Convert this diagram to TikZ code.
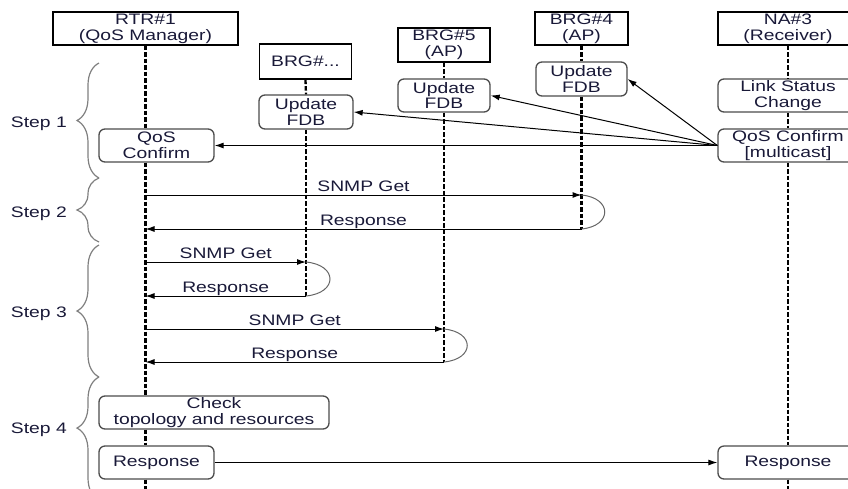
\documentclass[tikz,border=0pt]{standalone}
\usepackage{fontspec}
\setmainfont[FakeStretch=1.27]{Liberation Sans}
\usetikzlibrary{arrows.meta,decorations.pathreplacing}
\definecolor{txt}{rgb}{0.1,0.1,0.22}
\begin{document}
\begin{tikzpicture}[x=1pt,y=-1pt,
  every node/.style={font=\fontsize{15.2}{15.7}\selectfont, text=txt, align=center, inner sep=0pt},
  head/.style={draw=black, line width=1.4pt, minimum height=33pt},
  act/.style={draw=black!70, line width=1.3pt, rounded corners=6pt, minimum height=33pt},
  life/.style={line width=2.3pt, dash pattern=on 4.5pt off 2pt},
  msg/.style={line width=1pt, -{Latex[length=9pt,width=6pt]}},
  loopback/.style={draw=black!60, line width=1pt},
  stepbrace/.style={draw=black!50, line width=1.2pt, decorate, decoration={brace, amplitude=22pt}},
  steplabel/.style={anchor=base east},
  msglabel/.style={midway, anchor=base, yshift=4pt}
]
\useasboundingbox (0,0) rectangle (848,488);
\clip (0,0) rectangle (848,488);

% heads
\node[head, minimum width=185pt] (rtr) at (145.5,28.5) {RTR\#1\\(QoS Manager)};
\node[head, minimum width=92pt, minimum height=35pt] (brgx) at (305.5,61.5) {BRG\#...};
\node[head, minimum width=92pt, minimum height=34pt] (brg5) at (444,45) {BRG\#5\\(AP)};
\node[head, minimum width=93pt] (brg4) at (581.5,28.5) {BRG\#4\\(AP)};
\node[head, minimum width=140pt] (na3) at (788,28.5) {NA\#3\\(Receiver)};

% activity boxes
\node[act, minimum width=115pt] (rtrqos) at (156.5,145.5) {QoS\\Confirm};
\node[act, minimum width=94pt, minimum height=34pt] (brgxfdb) at (306,112) {Update\\FDB};
\node[act, minimum width=92pt] (brg5fdb) at (444,95.5) {Update\\FDB};
\node[act, minimum width=91pt, minimum height=34pt] (brg4fdb) at (581.5,79) {Update\\FDB};
\node[act, minimum width=140pt] (nalink) at (788,95.5) {Link Status\\Change};
\node[act, minimum width=140pt] (naqos) at (788,145.5) {QoS Confirm\\{}[multicast]};
\node[act, minimum width=230pt] (check) at (214,412.5) {Check\\topology and resources};
\node[act, minimum width=115pt] (rtrresp) at (156.5,462.5) {Response};
\node[act, minimum width=140pt] (naresp) at (788,462.5) {Response};

% lifelines
\draw[life] (rtr.south) -- (rtr.south |- rtrqos.north);
\draw[life] (rtr.south |- rtrqos.south) -- (rtr.south |- check.north);
\draw[life] (rtr.south |- check.south) -- (rtr.south |- rtrresp.north);
\draw[life] (rtr.south |- rtrresp.south) -- (145.5,495);
\draw[life] (brgx.south) -- (brgxfdb.north);
\draw[life] (brgxfdb.south) -- (306,296);
\draw[life] (brg5.south) -- (brg5fdb.north);
\draw[life] (brg5fdb.south) -- (444,362);
\draw[life] (brg4.south) -- (brg4fdb.north);
\draw[life] (brg4fdb.south) -- (581.5,229);
\draw[life] (na3.south) -- (nalink.north);
\draw[life] (nalink.south) -- (naqos.north);
\draw[life] (naqos.south) -- (naresp.north);
\draw[life] (naresp.south) -- (788,495);

% step 1 multicast
\draw[msg] (naqos.west) -- (rtrqos.east);
\draw[msg] (naqos.west) -- (brgxfdb.east);
\draw[msg] (naqos.west) -- (brg5fdb.east);
\draw[msg] (naqos.west) -- (brg4fdb.east);

% step 2
\coordinate (g2a) at (145.5,195);
\coordinate (g2b) at (581.5,195);
\coordinate (r2b) at (581.5,229);
\coordinate (r2a) at (145.5,229);
\draw[msg] (g2a) -- node[msglabel] {SNMP Get} (g2b);
\draw[loopback] (g2b) .. controls +(31,3) and +(31,-3) .. (r2b);
\draw[msg] (r2b) -- node[msglabel] {Response} (r2a);

% step 3
\coordinate (g3a) at (145.5,262);
\coordinate (g3b) at (306,262);
\coordinate (r3b) at (306,296);
\coordinate (r3a) at (145.5,296);
\draw[msg] (g3a) -- node[msglabel] {SNMP Get} (g3b);
\draw[loopback] (g3b) .. controls +(32,3) and +(32,-3) .. (r3b);
\draw[msg] (r3b) -- node[msglabel] {Response} (r3a);

\coordinate (g4a) at (145.5,329);
\coordinate (g4b) at (444,329);
\coordinate (r4b) at (444,362);
\coordinate (r4a) at (145.5,362);
\draw[msg] (g4a) -- node[msglabel] {SNMP Get} (g4b);
\draw[loopback] (g4b) .. controls +(31,3) and +(31,-3) .. (r4b);
\draw[msg] (r4b) -- node[msglabel] {Response} (r4a);

% step 4
\draw[msg] (rtrresp.east) -- (naresp.west);

% braces
\coordinate (b1t) at (99,63);
\coordinate (b1b) at (99,178);
\coordinate (b2t) at (99,178);
\coordinate (b2b) at (99,242);
\coordinate (b3t) at (99,245);
\coordinate (b3b) at (99,377);
\coordinate (b4t) at (99,377);
\coordinate (b4b) at (99,500);
\draw[stepbrace] (b1b) -- (b1t);
\draw[stepbrace] (b2b) -- (b2t);
\draw[stepbrace] (b3b) -- (b3t);
\draw[stepbrace, decoration={brace, amplitude=22pt, aspect=0.585}] (b4b) -- (b4t);
\node[steplabel] (s1) at (67,127) {Step 1};
\node[steplabel] (s2) at (67,217) {Step 2};
\node[steplabel] (s3) at (67,317) {Step 3};
\node[steplabel] (s4) at (67,433) {Step 4};
\end{tikzpicture}
\end{document}
